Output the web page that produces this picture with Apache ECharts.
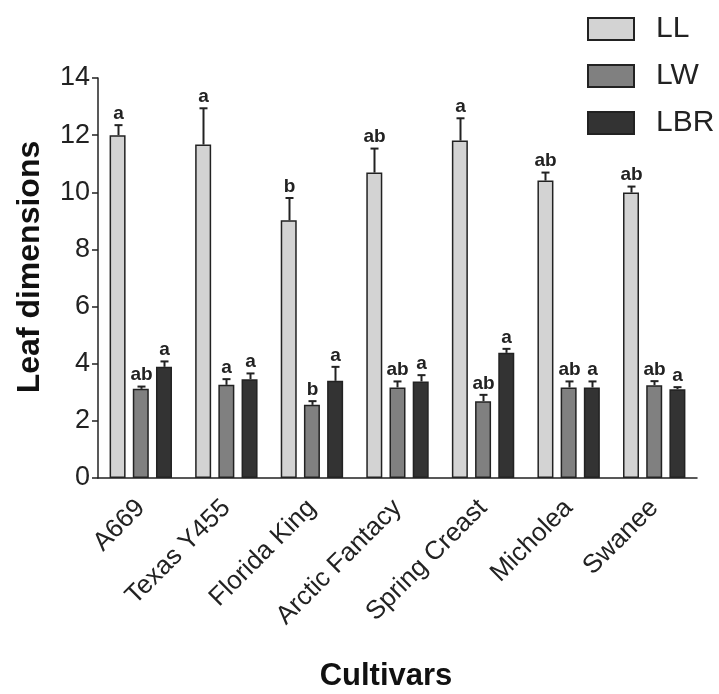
<!DOCTYPE html>
<html>
<head>
<meta charset="utf-8">
<script src="https://cdn.jsdelivr.net/npm/echarts@6/dist/echarts.min.js"></script>
<style>html,body{margin:0;padding:0;background:#fff}#c{width:719px;height:694px}</style>
</head>
<body>
<div id="c"></div>
<script>
const categories = ['A669', 'Texas Y455', 'Florida King', 'Arctic Fantacy', 'Spring Creast', 'Micholea', 'Swanee'];
const seriesNames = ['LL', 'LW', 'LBR'];
const LL = [12.0, 11.67, 9.02, 10.69, 11.81, 10.41, 9.99];
const LL_err = [0.35, 1.27, 0.78, 0.84, 0.78, 0.28, 0.21];
const LW = [3.12, 3.26, 2.56, 3.17, 2.69, 3.17, 3.25];
const LW_err = [0.08, 0.2, 0.13, 0.21, 0.22, 0.21, 0.14];
const LBR = [3.89, 3.46, 3.40, 3.38, 4.38, 3.17, 3.11];
const LBR_err = [0.19, 0.2, 0.49, 0.22, 0.14, 0.21, 0.07];
const LL_letters = ['a', 'a', 'b', 'ab', 'a', 'ab', 'ab'];
const LW_letters = ['ab', 'a', 'b', 'ab', 'ab', 'ab', 'ab'];
const LBR_letters = ['a', 'a', 'a', 'a', 'a', 'a', 'a'];
const yTicks = { min: 0, max: 14, interval: 2 };
const xTitle = 'Cultivars';
const yTitle = 'Leaf dimensions';

const colors = ['#d3d3d3', '#808080', '#333333'];
const FONT = 'Arial, "Liberation Sans", sans-serif';
const barWidth = 16;
const barGapPct = 0.45;

const values = [LL, LW, LBR];
const errs = [LL_err, LW_err, LBR_err];
const letters = [LL_letters, LW_letters, LBR_letters];

const chart = echarts.init(document.getElementById('c'), null, { renderer: 'canvas' });

const step = barWidth * (1 + barGapPct);
const offsets = [-step, 0, step];

const barSeries = seriesNames.map((n, k) => ({
  name: n,
  type: 'bar',
  data: values[k],
  barWidth: barWidth,
  barGap: (barGapPct * 100) + '%',
  itemStyle: { color: colors[k], borderColor: '#222', borderWidth: 1.5 },
  z: 2
}));

const errSeries = seriesNames.map((n, k) => ({
  type: 'custom',
  name: n + '_err',
  z: 5,
  silent: true,
  data: values[k].map((v, i) => [i, v, errs[k][i]]),
  renderItem: function (params, api) {
    const i = api.value(0), v = api.value(1), e = api.value(2);
    const p0 = api.coord([i, v]);
    const p1 = api.coord([i, v + e]);
    const x = Math.round(p0[0] + offsets[k]) + 0.5;
    return {
      type: 'group',
      children: [
        { type: 'line', shape: { x1: x, y1: p0[1], x2: x, y2: p1[1] }, style: { stroke: '#222', lineWidth: 2 } },
        { type: 'line', shape: { x1: x - 4, y1: p1[1], x2: x + 4, y2: p1[1] }, style: { stroke: '#222', lineWidth: 2 } },
        { type: 'text', style: { text: letters[k][params.dataIndex], x: x, y: p1[1] - 2, align: 'center', verticalAlign: 'bottom', fontSize: 19, fontWeight: 'bold', fontFamily: FONT, fill: '#222' } }
      ]
    };
  }
}));

chart.setOption({
  animation: false,
  backgroundColor: '#fff',
  grid: { left: 98, right: 22, top: 78, bottom: 216, containLabel: false },
  legend: {
    data: seriesNames,
    orient: 'vertical',
    left: 582,
    top: 9,
    icon: 'rect',
    itemWidth: 46,
    itemHeight: 22,
    itemGap: 17,
    textStyle: { fontSize: 30, fontFamily: FONT, color: '#222', padding: [0, 0, 0, 17], lineHeight: 30 }
  },
  graphic: [
    { type: 'text', x: 386, y: 676, style: { text: xTitle, align: 'center', verticalAlign: 'middle', fontSize: 31, fontWeight: 'bold', fontFamily: FONT, fill: '#111' } },
    { type: 'text', x: 30, y: 267, rotation: Math.PI / 2, style: { text: yTitle, align: 'center', verticalAlign: 'middle', fontSize: 32, fontWeight: 'bold', fontFamily: FONT, fill: '#111' } }
  ],
  xAxis: {
    type: 'category',
    data: categories,
    axisLine: { lineStyle: { color: '#222', width: 1.5 } },
    axisTick: { show: false },
    axisLabel: { rotate: 45, fontSize: 26, fontFamily: FONT, color: '#222', margin: 26, interval: 0 }
  },
  yAxis: {
    type: 'value',
    min: yTicks.min,
    max: yTicks.max,
    interval: yTicks.interval,
    axisLine: { show: true, lineStyle: { color: '#222', width: 1.5 } },
    axisTick: { show: true, length: 6, lineStyle: { color: '#222', width: 1.5 } },
    axisLabel: { fontSize: 27, fontFamily: FONT, color: '#222', margin: 8 },
    splitLine: { show: false }
  },
  series: [...barSeries, ...errSeries]
});
</script>
</body>
</html>
